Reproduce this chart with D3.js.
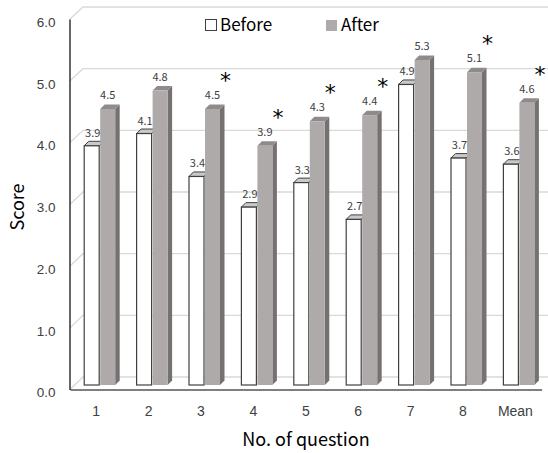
<!DOCTYPE html>
<html>
<head>
<meta charset="utf-8">
<script src="https://cdn.jsdelivr.net/npm/d3@7"></script>
<style>
  body { margin: 0; background: #fff; }
  svg { display: block; font-family: "Noto Sans CJK KR", "Noto Sans", sans-serif; }
</style>
</head>
<body>
<svg id="chart" width="548" height="453"></svg>
<script>
const categories = ["1", "2", "3", "4", "5", "6", "7", "8", "Mean"]
const before = [3.9, 4.1, 3.4, 2.9, 3.3, 2.7, 4.9, 3.7, 3.6]
const after = [4.5, 4.8, 4.5, 3.9, 4.3, 4.4, 5.3, 5.1, 4.6]
const significant = [false, false, true, true, true, true, false, true, true]
const yTicks = [0, 1, 2, 3, 4, 5, 6]
const seriesNames = ["Before", "After"]

const svg = d3.select("#chart")

// 3D-ish depth offset
const depthX = 13, depthY = -12
const sideX = 4.5, sideY = -4.5

const x = d3.scaleBand().domain(categories).range([70, 541.6]).padding(0)
const yFront = d3.scaleLinear().domain([0, 6]).range([389.5, 19])
const yBack = d3.scaleLinear().domain([0, 6]).range([377, 7])
const yBar = d3.scaleLinear().domain([0, 6]).range([385, 17])

const gridColor = "#d9d9d9"

// back wall gridlines with diagonal from the front axis
const grid = svg.append("g")
for (const v of yTicks) {
    grid.append("path")
        .attr("d", `M70,${yFront(v)}L${70 + depthX},${yBack(v)}H548`)
        .attr("fill", "none")
        .attr("stroke", gridColor)
        .attr("stroke-width", 1.3)
}

// y axis
const yAxis = svg.append("g")
    .attr("transform", "translate(69.5,0)")
    .call(d3.axisLeft(yFront).tickValues(yTicks).tickSize(0).tickPadding(14).tickFormat(d3.format(".1f")))
yAxis.select(".domain").attr("stroke", "#000").attr("stroke-width", 1.2)
yAxis.selectAll("text")
    .attr("dy", "0.55em")
    .attr("font-size", 13.5)
    .attr("fill", "#404040")

// x axis
const xAxis = svg.append("g")
    .attr("transform", "translate(0,389.5)")
    .call(d3.axisBottom(x).tickSize(0).tickPadding(17))
xAxis.select(".domain").attr("stroke", "#000").attr("stroke-width", 1.2)
xAxis.selectAll("text")
    .attr("font-size", 14)
    .attr("fill", "#404040")

// bars
const bw = x.bandwidth()
const barW = 15

function center(c) { return x(c) + bw / 2 }

const bars = svg.append("g")

categories.forEach((c, i) => {
    const cx = center(c)
    const base = yBar(0)

    // before bar
    const bx = cx - 12
    const bt = yBar(before[i])
    bars.append("path")
        .attr("d", `M${bx},${bt}L${bx + sideX},${bt + sideY}H${bx + barW + sideX}L${bx + barW},${bt}Z`)
        .attr("fill", "#c9c9c9")
        .attr("stroke", "#404040")
        .attr("stroke-width", 1)
    bars.append("rect")
        .attr("x", bx).attr("y", bt)
        .attr("width", barW).attr("height", base - bt)
        .attr("fill", "#fff")
        .attr("stroke", "#404040")
        .attr("stroke-width", 1.2)

    // after bar
    const ax = cx + 4
    const at = yBar(after[i])
    bars.append("path")
        .attr("d", `M${ax + barW},${at}L${ax + barW + sideX},${at + sideY}V${base + sideY}L${ax + barW},${base}Z`)
        .attr("fill", "#767171")
    bars.append("path")
        .attr("d", `M${ax},${at}L${ax + sideX},${at + sideY}H${ax + barW + sideX}L${ax + barW},${at}Z`)
        .attr("fill", "#8f8b8b")
    bars.append("rect")
        .attr("x", ax).attr("y", at)
        .attr("width", barW).attr("height", base - at)
        .attr("fill", "#aeaaaa")

    // value labels
    bars.append("text")
        .attr("x", bx + barW / 2 + 1)
        .attr("y", bt - 9)
        .attr("text-anchor", "middle")
        .attr("font-size", 11)
        .attr("fill", "#404040")
        .text(d3.format(".1f")(before[i]))
    bars.append("text")
        .attr("x", ax + barW / 2)
        .attr("y", at - 10)
        .attr("text-anchor", "middle")
        .attr("font-size", 11)
        .attr("fill", "#404040")
        .text(d3.format(".1f")(after[i]))

    if (significant[i]) {
        bars.append("text")
            .attr("x", ax + barW / 2 + 13)
            .attr("y", at - 21)
            .attr("text-anchor", "middle")
            .attr("font-family", "DejaVu Sans")
            .attr("font-size", 22)
            .attr("fill", "#000")
            .text("*")
    }
})

// legend
const legend = svg.append("g")
legend.append("rect")
    .attr("x", 205.5).attr("y", 19.5).attr("width", 11).attr("height", 11)
    .attr("fill", "#fff").attr("stroke", "#404040")
legend.append("text")
    .attr("x", 220).attr("y", 31)
    .attr("font-size", 17).attr("fill", "#000")
    .text(seriesNames[0])
legend.append("rect")
    .attr("x", 326).attr("y", 20).attr("width", 11).attr("height", 11)
    .attr("fill", "#aeaaaa")
legend.append("text")
    .attr("x", 341).attr("y", 31)
    .attr("font-size", 17).attr("fill", "#000")
    .text(seriesNames[1])

// axis titles
svg.append("text")
    .attr("transform", "translate(24,207) rotate(-90)")
    .attr("text-anchor", "middle")
    .attr("font-size", 18)
    .attr("fill", "#000")
    .text("Score")
svg.append("text")
    .attr("x", 306).attr("y", 446)
    .attr("text-anchor", "middle")
    .attr("font-size", 18)
    .attr("fill", "#000")
    .text("No. of question")
</script>
</body>
</html>
